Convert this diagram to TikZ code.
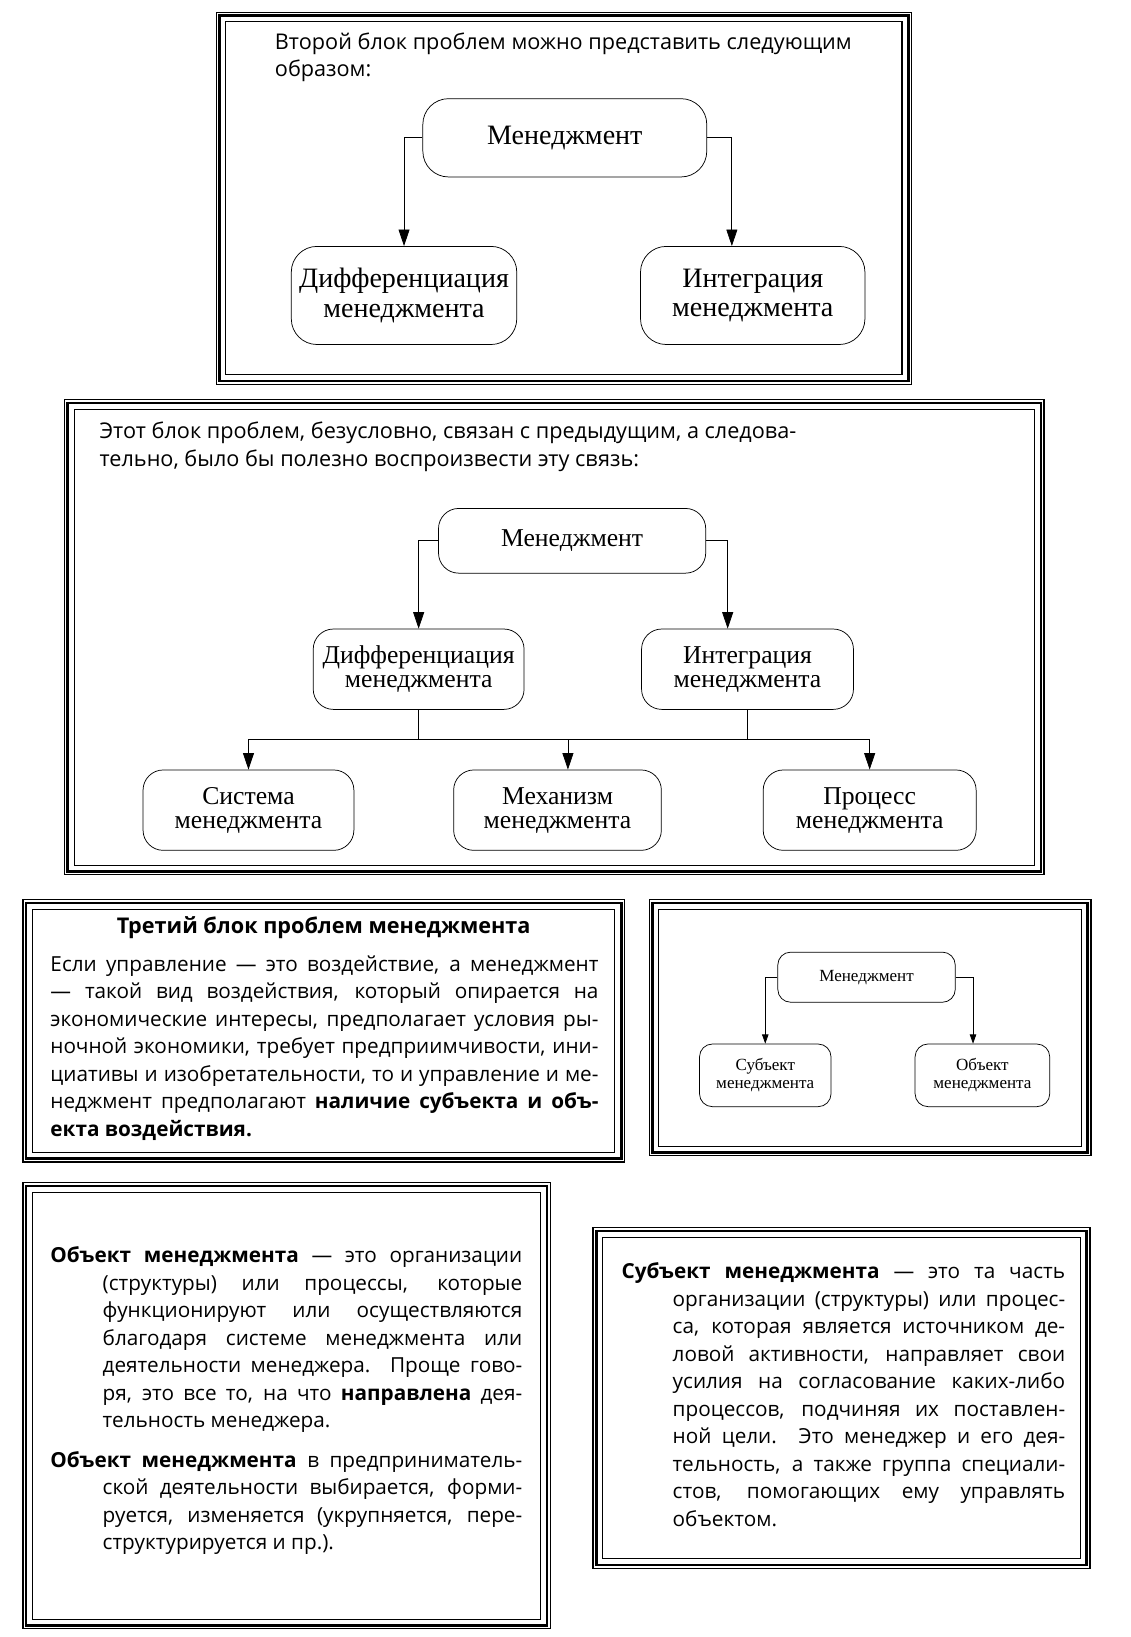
\documentclass[tikz,border=0pt]{standalone}
\usepackage{fontspec}
\setmainfont{Open Sans}
\newfontfamily\serifbox{Liberation Serif}
\usetikzlibrary{arrows.meta}

\begin{document}
\begin{tikzpicture}[x=0.02cm, y=-0.02cm,
  blkbig/.style={draw, thin, rounded corners=14pt, align=center, inner sep=1pt,
    font=\serifbox\fontsize{15.3}{16}\selectfont},
  blkmid/.style={draw, thin, rounded corners=11pt, align=center, inner sep=1pt,
    font=\serifbox\fontsize{14}{13}\selectfont},
  blksmall/.style={draw, thin, rounded corners=7pt, align=center, inner sep=1pt,
    font=\serifbox\fontsize{9.3}{9.6}\selectfont},
  txt/.style={anchor=north west, inner sep=0pt, align=left,
    font=\fontsize{11.8}{15}\selectfont},
  jtxt/.style={anchor=north west, inner sep=0pt, align=justify,
    font=\fontsize{11.3}{15}\selectfont,
    execute at begin node={\spaceskip=0.26em plus 0.8em minus 0.16em}},
  arr/.style={thin, -{Triangle[length=9pt, width=6pt]}},
  arrsmall/.style={thin, -{Triangle[length=5pt, width=3.5pt]}}]

 \useasboundingbox (0,0) rectangle (1083.3,1568);

 \foreach \a/\b/\c/\d in {207/12/873/368, 62/383/1000/838, 22/862/598/1113,
   622/862/1045/1107, 22/1133/527/1560, 568/1176/1044/1502}{
   \draw[line width=0.6pt] (\a,\b) rectangle (\c,\d);
   \draw[line width=1.5pt] (\a+3,\b+3) rectangle (\c-3,\d-3);
   \draw[line width=0.6pt] (\a+9,\b+9) rectangle (\c-9,\d-9);
 }

 \node (t1) at (263, 31)[txt]{Второй блок проблем можно представить следующим\\образом:};

 \node (m1) at (541, 132)[blkbig, minimum width=5.44cm, minimum height=1.5cm]{Менеджмент};
 \node (d1) at (387, 283)[blkbig, minimum width=4.32cm, minimum height=1.88cm]{Дифференциация\\менеджмента};
 \node (i1) at (721, 283)[blkbig, minimum width=4.3cm, minimum height=1.88cm]{Интеграция\\менеджмента};

 \draw[arr] (m1.west) -| (d1.north);
 \draw[arr] (m1.east) -| ([xshift=-0.4cm]i1.north);

 \node (t2) at (95, 404)[txt]{Этот блок проблем, безусловно, связан с предыдущим, а следова-\\тельно, было бы полезно воспроизвести эту связь:};

 \node (m2) at (548, 518)[blkmid, minimum width=5.12cm, minimum height=1.24cm]{Менеджмент};
 \node (d2) at (401, 641)[blkmid, minimum width=4.04cm, minimum height=1.54cm]{Дифференциация\\менеджмента};
 \node (i2) at (716, 641)[blkmid, minimum width=4.06cm, minimum height=1.54cm]{Интеграция\\менеджмента};
 \node (s2) at (238, 776)[blkmid, minimum width=4.04cm, minimum height=1.54cm]{Система\\менеджмента};
 \node (k2) at (534, 776)[blkmid, minimum width=3.98cm, minimum height=1.54cm]{Механизм\\менеджмента};
 \node (p2) at (833, 776)[blkmid, minimum width=4.08cm, minimum height=1.54cm]{Процесс\\менеджмента};

 \draw[arr] (m2.west) -| (d2.north);
 \draw[arr] (m2.east) -| ([xshift=-0.38cm]i2.north);

 \coordinate (bus) at (544, 708);
 \draw[thin] (d2.south) -- (d2.south |- bus);
 \draw[thin] (i2.south) -- (i2.south |- bus);
 \draw[thin] (s2.north |- bus) -- (p2.north |- bus);
 \draw[arr] (s2.north |- bus) -- (s2.north);
 \draw[arr] ([xshift=0.2cm]k2.north |- bus) -- ([xshift=0.2cm]k2.north);
 \draw[arr] (p2.north |- bus) -- (p2.north);

 \node (h3) at (310, 889)[font=\bfseries\fontsize{11.8}{15}\selectfont]{Третий блок проблем менеджмента};
 \node (t3) at (48, 915)[jtxt, text width=10.5cm]{Если управление~--- это воздействие, а менеджмент\linebreak
   --- такой вид воздействия, который опирается на\linebreak
   экономические интересы, предполагает условия ры-\linebreak
   ночной экономики, требует предприимчивости, ини-\linebreak
   циативы и изобретательности, то и управление и ме-\linebreak
   неджмент предполагают \textbf{наличие субъекта и объ-\linebreak
   екта воздействия.}};

 \node (m3) at (830, 936)[blksmall, minimum width=3.4cm, minimum height=0.96cm]{Менеджмент};
 \node (s3) at (733, 1030)[blksmall, minimum width=2.52cm, minimum height=1.2cm]{Субъект\\менеджмента};
 \node (o3) at (941, 1030)[blksmall, minimum width=2.58cm, minimum height=1.2cm]{Объект\\менеджмента};

 \draw[arrsmall] (m3.west) -| (s3.north);
 \draw[arrsmall] (m3.east) -| ([xshift=-0.18cm]o3.north);

 \node (t5) at (48, 1194)[jtxt, text width=9.04cm]{\leftskip=1cm
   \hskip-1cm\textbf{Объект менеджмента}~--- это организации\linebreak
   (структуры) или процессы, которые\linebreak
   функционируют или осуществляются\linebreak
   благодаря системе менеджмента или\linebreak
   деятельности менеджера. Проще гово-\linebreak
   ря, это все то, на что \textbf{направлена} дея-\linebreak
   тельность менеджера.\par\vspace{6.5pt}
   \hskip-1cm\textbf{Объект менеджмента} в предприниматель-\linebreak
   ской деятельности выбирается, форми-\linebreak
   руется, изменяется (укрупняется, пере-\linebreak
   структурируется и пр.).\par};

 \node (t6) at (595, 1209)[jtxt, text width=8.5cm]{\leftskip=0.98cm
   \hskip-0.98cm\textbf{Субъект менеджмента}~--- это та часть\linebreak
   организации (структуры) или процес-\linebreak
   са, которая является источником де-\linebreak
   ловой активности, направляет свои\linebreak
   усилия на согласование каких-либо\linebreak
   процессов, подчиняя их поставлен-\linebreak
   ной цели. Это менеджер и его дея-\linebreak
   тельность, а также группа специали-\linebreak
   стов, помогающих ему управлять\linebreak
   объектом.\par};

\end{tikzpicture}
\end{document}
